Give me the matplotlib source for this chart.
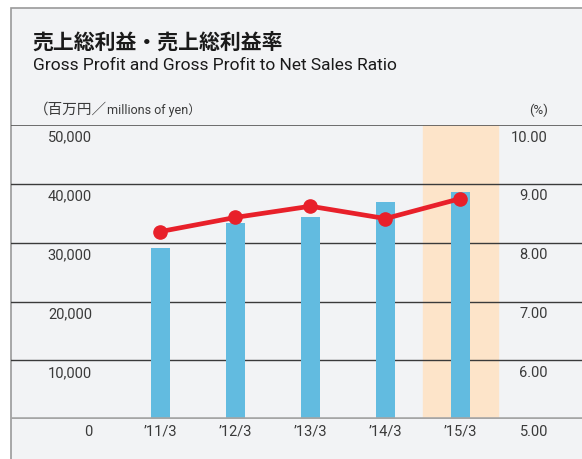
import matplotlib
matplotlib.use('Agg')
import matplotlib.pyplot as plt
import matplotlib.transforms as mtransforms
from matplotlib.patches import Rectangle

# Data
years = ["’11/3", "’12/3", "’13/3", "’14/3", "’15/3"]
gross_profit = [29100, 33300, 34300, 37000, 38600]   # millions of yen
profit_ratio = [8.19, 8.43, 8.62, 8.41, 8.75]        # %
left_ticks = [0, 10000, 20000, 30000, 40000, 50000]
right_ticks = [5.00, 6.00, 7.00, 8.00, 9.00, 10.00]

W, H = 582, 459
fig = plt.figure(figsize=(W / 100, H / 100), dpi=100)
fig.patch.set_facecolor('white')

# panel background with grey border on left/top
panel = Rectangle((11 / W, -0.05), 1.1, (459 - 8) / H + 0.05,
                  transform=fig.transFigure, facecolor='#f2f3f5',
                  edgecolor='#9a9a9a', lw=1.2, zorder=-5)
fig.patches.append(panel)

ax = fig.add_axes([11 / W, (H - 419.3) / H, 1 - 11 / W, (419.3 - 125) / H])
ax.set_facecolor('none')
x = list(range(len(years)))
ax.set_xlim(-1.993, -1.993 + 571 / 75)
ax.set_ylim(0, 50000)

# highlight of the latest year
ax.axvspan(x[-1] - 0.5, x[-1] + 0.5, color='#fde4c9', zorder=0)

for v in left_ticks[1:-1]:
    ax.axhline(v, color='#3a3a3a', lw=1.0, zorder=1)
ax.axhline(50000, color='#555555', lw=1.2, zorder=1)
ax.axhline(0, color='#a5a5a5', lw=2.6, zorder=4)

ax.bar(x, gross_profit, width=19 / 75, color='#62bbe0', zorder=2)

ax2 = ax.twinx()
ax2.set_ylim(5, 10)
ax2.plot(x, profit_ratio, color='#e8202a', lw=3.4, marker='o', ms=9.5, zorder=3)

for a in (ax, ax2):
    a.set_xticks([])
    a.set_yticks([])
    for s in a.spines.values():
        s.set_visible(False)

num_font = 'Roboto'
down = mtransforms.ScaledTranslation(0, -12.5 / 100, fig.dpi_scale_trans)

# left axis labels
tl = mtransforms.blended_transform_factory(fig.transFigure, ax.transData) + down
for v in left_ticks:
    ax.text(92 / W, v, f"{v:,}", transform=tl, ha='right', va='center',
            fontsize=10.5, color='#3a3a3a', family=num_font)

# right axis labels
tr = mtransforms.blended_transform_factory(fig.transFigure, ax2.transData) + down
for v in right_ticks:
    ax2.text(548 / W, v, f"{v:.2f}", transform=tr, ha='right', va='center',
             fontsize=10.5, color='#3a3a3a', family=num_font)

# category labels
tx = mtransforms.blended_transform_factory(ax.transData, ax.transData) + down
for i, lab in enumerate(years):
    ax.text(i, 0, lab, transform=tx, ha='center', va='center',
            fontsize=10.5, color='#3a3a3a', family=num_font)

# titles
cjk = ['Noto Sans CJK JP', 'DejaVu Sans']
fig.text(32 / W, 1 - 42 / H, "売上総利益・売上総利益率", ha='left', va='center',
         fontsize=15, fontweight='bold', color='#1a1a1a', family=cjk)
fig.text(33 / W, 1 - 66 / H, "Gross Profit and Gross Profit to Net Sales Ratio",
         ha='left', va='center', fontsize=12.5, color='#1a1a1a', family='Roboto')
fig.text(34 / W, 1 - 110 / H, "（百万円／", ha='left', va='center',
         fontsize=10.5, color='#3a3a3a', family=cjk)
fig.text(107 / W, 1 - 110 / H, "millions of yen）", ha='left', va='center',
         fontsize=9, color='#3a3a3a', family=['Roboto', 'Noto Sans CJK JP'])
fig.text(548 / W, 1 - 110 / H, "(%)", ha='right', va='center',
         fontsize=9.5, color='#3a3a3a', family='Roboto')

fig.savefig('out.png', dpi=100)
